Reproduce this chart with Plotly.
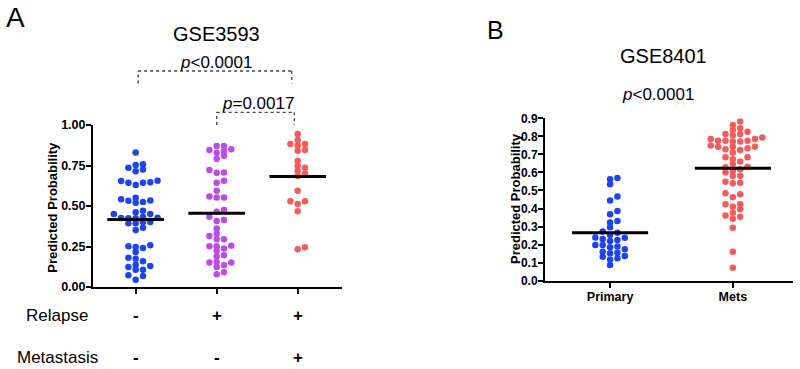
import plotly.graph_objects as go

# ---------------- data ----------------
# Panel A: GSE3593
a_categories = ["Relapse - / Metastasis -", "Relapse + / Metastasis -", "Relapse + / Metastasis +"]
a_no_relapse = [0.045, 0.068, 0.072, 0.107, 0.107, 0.124, 0.130, 0.138, 0.159, 0.175, 0.181,
                0.216, 0.241, 0.247, 0.252, 0.258, 0.352, 0.366, 0.393, 0.393, 0.402, 0.402,
                0.424, 0.424, 0.426, 0.428, 0.432, 0.451, 0.451, 0.461, 0.471, 0.520, 0.524,
                0.532, 0.534, 0.542, 0.551, 0.629, 0.643, 0.643, 0.647, 0.654, 0.656, 0.715,
                0.726, 0.736, 0.753, 0.757, 0.831]
a_relapse = [0.870, 0.870, 0.850, 0.845, 0.839, 0.829, 0.810, 0.792, 0.722, 0.707, 0.705,
             0.656, 0.643, 0.594, 0.559, 0.553, 0.553, 0.476, 0.464, 0.433, 0.414, 0.408,
             0.361, 0.328, 0.315, 0.295, 0.295, 0.254, 0.252, 0.252, 0.237, 0.223, 0.196,
             0.190, 0.155, 0.151, 0.151, 0.134, 0.124, 0.091, 0.078]
a_relapse_met = [0.944, 0.907, 0.882, 0.882, 0.874, 0.845, 0.841, 0.779, 0.748, 0.736, 0.717,
                 0.701, 0.685, 0.594, 0.530, 0.530, 0.513, 0.468, 0.245, 0.233]
a_yticks = [0, 0.25, 0.5, 0.75, 1.0]
a_yticklabels = ["0.00", "0.25", "0.50", "0.75", "1.00"]
relapse_signs = ["-", "+", "+"]
metastasis_signs = ["-", "-", "+"]

# Panel B: GSE8401
b_categories = ["Primary", "Mets"]
b_primary = [0.569, 0.562, 0.534, 0.466, 0.444, 0.386, 0.368, 0.331, 0.322, 0.296, 0.272,
             0.266, 0.253, 0.240, 0.238, 0.231, 0.226, 0.220, 0.198, 0.198, 0.189, 0.185,
             0.174, 0.161, 0.155, 0.152, 0.137, 0.133, 0.124, 0.118, 0.087]
b_mets = [0.882, 0.863, 0.845, 0.835, 0.826, 0.813, 0.813, 0.804, 0.793, 0.785, 0.785, 0.776,
          0.776, 0.776, 0.771, 0.771, 0.749, 0.743, 0.743, 0.743, 0.734, 0.728, 0.725, 0.710,
          0.684, 0.684, 0.673, 0.660, 0.647, 0.632, 0.629, 0.618, 0.608, 0.599, 0.582, 0.580,
          0.549, 0.540, 0.543, 0.484, 0.479, 0.462, 0.423, 0.423, 0.410, 0.396, 0.377, 0.362,
          0.355, 0.344, 0.294, 0.161, 0.072]
b_yticks = [0, 0.1, 0.2, 0.3, 0.4, 0.5, 0.6, 0.7, 0.8, 0.9]

BLUE, PURPLE, RED = "#1e43f0", "#bb4ce4", "#f25c5c"
FONT = "Liberation Sans, Arial, sans-serif"
W, H = 800, 369


def px(x):
    return x / W


def py(y):
    return 1 - y / H


def swarm_offsets(values, slot, gap):
    """Prism-like column scatter: sorted values fill slots 0, +1, -1, +2, -2 ..."""
    order = sorted(range(len(values)), key=lambda i: values[i])
    seq = [0]
    for k in range(1, 12):
        seq += [k, -k]
    last = {}
    off = [0.0] * len(values)
    for i in order:
        v = values[i]
        for k in seq:
            if k not in last or v - last[k] >= gap:
                last[k] = v
                off[i] = k * slot
                break
    return off


fig = go.Figure()


def add_group(values, cat, color, xa, ya, slot, gap, half):
    offs = swarm_offsets(values, slot, gap)
    fig.add_trace(go.Scatter(
        x=[cat + o for o in offs], y=values, mode="markers",
        marker=dict(color=color, size=6.5, line=dict(width=0)),
        xaxis=xa, yaxis=ya, showlegend=False, hoverinfo="y"))
    m = sum(values) / len(values)
    fig.add_trace(go.Scatter(
        x=[cat - half, cat + half], y=[m, m], mode="lines",
        line=dict(color="black", width=3), xaxis=xa, yaxis=ya,
        showlegend=False, hoverinfo="skip"))


for i, (vals, col) in enumerate([(a_no_relapse, BLUE), (a_relapse, PURPLE), (a_relapse_met, RED)]):
    add_group(vals, i, col, "x", "y", 0.09, 0.0285, 0.35)
for i, (vals, col) in enumerate([(b_primary, BLUE), (b_mets, RED)]):
    add_group(vals, i, col, "x2", "y2", 0.06, 0.0255, 0.31)

axis_common = dict(showline=True, linecolor="black", linewidth=2, ticks="outside",
                   ticklen=5, tickwidth=2, tickcolor="black", showgrid=False,
                   zeroline=False, fixedrange=True, automargin=False)

fig.update_layout(
    width=W, height=H, margin=dict(l=0, r=0, t=0, b=0, autoexpand=False),
    paper_bgcolor="white", plot_bgcolor="white",
    font=dict(family=FONT, color="black"),
    xaxis=dict(domain=[px(93), px(342)], range=[-0.527, 2.547], tickvals=[0, 1, 2],
               showticklabels=False, anchor="y", **axis_common),
    yaxis=dict(domain=[py(287), py(125)], range=[0, 1.0], tickvals=a_yticks,
               ticktext=[f"<b>{t}</b>" for t in a_yticklabels], anchor="x",
               ticklabelstandoff=-2,
               tickfont=dict(size=12.5, weight="bold", family=FONT), **axis_common),
    xaxis2=dict(domain=[px(545), px(793)], range=[-0.53, 1.49], tickvals=[0, 1],
                ticktext=[f"<b>{t}</b>" for t in b_categories], anchor="y2",
                ticklabelstandoff=-2,
                tickfont=dict(size=12.5, weight="bold", family=FONT), **axis_common),
    yaxis2=dict(domain=[py(280.7), py(118.3)], range=[0, 0.9], tickvals=b_yticks,
                ticktext=[f"<b>{v:.1f}</b>" for v in b_yticks], anchor="x2",
                ticklabelstandoff=-2,
                tickfont=dict(size=12, weight="bold", family=FONT), **axis_common),
)

ann = []


def text(x, y, s, size, bold=False, xref="paper", angle=0):
    ann.append(dict(x=x, y=py(y), xref=xref, yref="paper", text=s, showarrow=False,
                    xanchor="center", yanchor="middle", textangle=angle,
                    font=dict(size=size, family=FONT, color="black",
                              weight="bold" if bold else "normal")))


text(px(15), 17, "A", 28)
text(px(216.3), 34, "GSE3593", 20)
text(px(216.3), 62, "<i>p</i>&lt;0.0001", 17)
text(px(257.5), 103, "<i>p</i>=0.0017", 17)
text(px(51.7), 207, "<b>Predicted Probability</b>", 13, bold=True, angle=-90)
text(px(57.5), 315, "Relapse", 17)
text(px(57.8), 357, "Metastasis", 17)
for i, s in enumerate(relapse_signs):
    text(i, 315, f"<b>{s}</b>", 17, bold=True, xref="x")
for i, s in enumerate(metastasis_signs):
    text(i, 357, f"<b>{s}</b>", 17, bold=True, xref="x")

text(px(495.8), 29.5, "B", 25)
text(px(663.3), 56, "GSE8401", 20)
text(px(658.3), 94, "<i>p</i>&lt;0.0001", 17)
text(px(515), 199, "<b>Predicted Probability</b>", 13, bold=True, angle=-90)

fig.update_layout(annotations=ann)


# significance brackets (dotted)
def bracket(x0, x1, ytop, ybot):
    style = dict(color="#444444", width=1.3, dash="dot")
    for (xa0, ya0, xa1, ya1) in [(x0, ybot, x0, ytop), (x0, ytop, x1, ytop), (x1, ytop, x1, ybot)]:
        fig.add_shape(type="line", xref="x", yref="paper", x0=xa0, x1=xa1,
                      y0=py(ya0), y1=py(ya1), line=style)


bracket(0.03, 1.926, 71, 83.5)
bracket(1.0, 1.958, 112.3, 125)

fig.write_html("out.html", config={"displayModeBar": False},
               post_script="document.body.style.margin='0px';document.body.style.overflow='hidden';")
